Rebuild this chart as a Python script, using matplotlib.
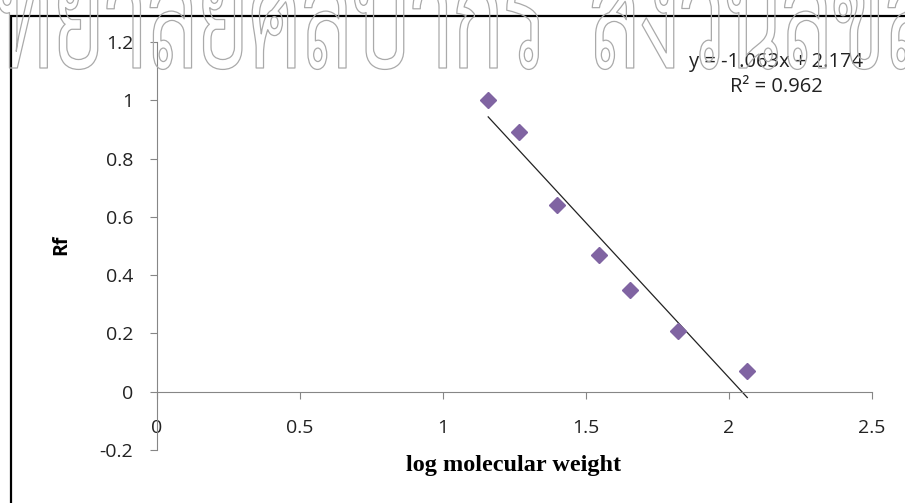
import os
import numpy as np
import matplotlib
matplotlib.use("Agg")
import matplotlib.pyplot as plt
import matplotlib.patheffects as pe
from matplotlib import font_manager
from matplotlib.patches import Rectangle
from matplotlib.textpath import TextPath
from matplotlib.transforms import Affine2D

# log10 of marker molecular weights (kDa) and measured Rf
log_mw = [1.158, 1.265, 1.398, 1.544, 1.653, 1.821, 2.064]
rf = [1.00, 0.89, 0.64, 0.47, 0.35, 0.21, 0.07]

slope = -1.063
intercept = 2.174
eq_text = "y = -1.063x + 2.174"
r2_text = "R\u00b2 = 0.962"

x_ticks = [0, 0.5, 1, 1.5, 2, 2.5]
y_ticks = [-0.2, 0, 0.2, 0.4, 0.6, 0.8, 1, 1.2]

wm_first = "ทยาลัยศิลปากร"
wm_second = "สงวนลิขสิทธิ์"


def find_thai_font():
    files = font_manager.findSystemFonts()
    by_name = {os.path.basename(f): f for f in files}
    for want in ["Sarabun-Regular.ttf", "Sarabun-Light.ttf",
                 "Athiti-Regular.ttf", "Athiti-Medium.ttf"]:
        if want in by_name:
            return by_name[want]
    return None


class SqueezedStroke(pe.Stroke):
    """outline stroke, squeezed horizontally around x0 (display px)"""

    def __init__(self, sx, x0, **kw):
        super().__init__(**kw)
        self.sx = sx
        self.x0 = x0

    def draw_path(self, renderer, gc, tpath, affine, rgbFace=None):
        affine = affine + Affine2D().translate(-self.x0, 0).scale(self.sx, 1).translate(self.x0, 0)
        super().draw_path(renderer, gc, tpath, affine, rgbFace)


W, H = 905, 503
fig = plt.figure(figsize=(W / 100, H / 100), dpi=100)
fig.patch.set_facecolor("white")

# outer chart border
fig.patches.append(Rectangle((11 / W, -0.05), 1.2, 1 - 16 / H + 0.05,
                             transform=fig.transFigure, fill=False,
                             edgecolor="black", linewidth=1.6, zorder=1))

ax = fig.add_axes([157 / W, 53 / H, 715 / W, 408 / H])
ax.set_facecolor("none")
ax.set_xlim(0, 2.5)
ax.set_ylim(-0.2, 1.2)

axis_col = "#868686"
for s in ["top", "right"]:
    ax.spines[s].set_visible(False)
ax.spines["left"].set_color(axis_col)
ax.spines["left"].set_position(("data", 0))
ax.spines["bottom"].set_color(axis_col)
ax.spines["bottom"].set_position(("data", 0))

ax.set_xticks(x_ticks)
ax.set_xticklabels([f"{v:g}" for v in x_ticks])
ax.set_yticks(y_ticks)
ax.set_yticklabels([f"{v:g}" for v in y_ticks])

tick_font = "Open Sans"
ax.tick_params(axis="x", direction="out", length=5, color=axis_col,
               pad=15, labelsize=14, labelcolor="#222222")
ax.tick_params(axis="y", direction="out", length=5, color=axis_col,
               pad=12, labelsize=14, labelcolor="#222222")
for lab in ax.get_xticklabels() + ax.get_yticklabels():
    lab.set_fontfamily(tick_font)

# data points
ax.plot(log_mw, rf, linestyle="none", marker="D", markersize=8.5,
        color="#8064A2", zorder=3)

# linear trendline over the data range
xs = np.array([min(log_mw), max(log_mw)])
ax.plot(xs, slope * xs + intercept, color="#222222", linewidth=0.9, zorder=2)

fig.text(776 / W, 1 - 62 / H, eq_text, ha="center", va="center",
         fontsize=14.5, fontfamily="Open Sans", color="#222222")
fig.text(776 / W, 1 - 87 / H, r2_text, ha="center", va="center",
         fontsize=14.5, fontfamily="Open Sans", color="#222222")

fig.text(61 / W, 1 - 245 / H, "Rf", rotation=90, ha="center", va="center",
         fontsize=14, fontweight="bold", fontfamily="Open Sans")
fig.text(514 / W, 1 - 466 / H, "log molecular weight", ha="center",
         va="center", fontsize=17.5, fontweight="bold",
         fontfamily="Liberation Serif")

# watermark across the top, outlined letters, cut by the top edge
thai = find_thai_font()
if thai:
    fp1 = font_manager.FontProperties(fname=thai, size=1)
    glyph_h = TextPath((0, 0), "ก", size=1, prop=fp1).get_extents().height
    size_px = 84 / glyph_h
    fp = font_manager.FontProperties(fname=thai, size=size_px * 72 / 100)
    first_w = TextPath((0, 0), wm_first, size=size_px, prop=fp1).get_extents().width
    sx = 545 / first_w
    x0 = -4
    fig.text(x0 / W, 1 - 68 / H, wm_first + "  " + wm_second, fontproperties=fp,
             ha="left", va="baseline", color="none",
             path_effects=[SqueezedStroke(sx, x0, linewidth=0.9,
                                          foreground="#aaaaaa")])

fig.savefig("out.png", dpi=100)
